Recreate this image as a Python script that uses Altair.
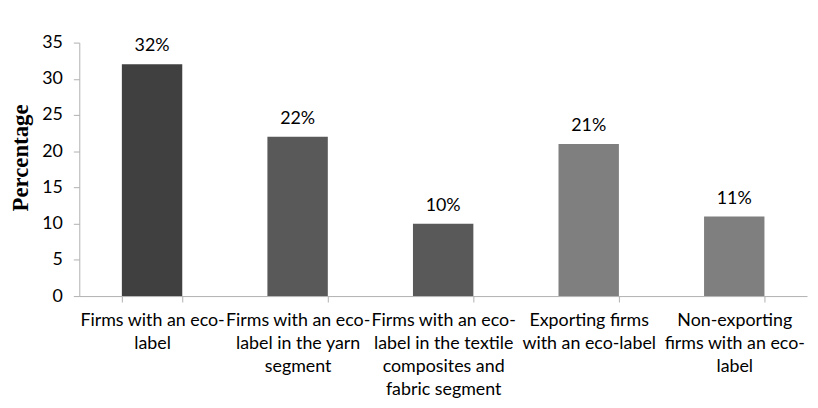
import altair as alt
import pandas as pd

categories = [
    "Firms with an eco-\nlabel",
    "Firms with an eco-\nlabel in the yarn\nsegment",
    "Firms with an eco-\nlabel in the textile\ncomposites and\nfabric segment",
    "Exporting firms\nwith an eco-label",
    "Non-exporting\nfirms with an eco-\nlabel",
]
values = [32, 22, 10, 21, 11]
labels = ["32%", "22%", "10%", "21%", "11%"]
colors = ["#404040", "#595959", "#595959", "#7f7f7f", "#7f7f7f"]

df = pd.DataFrame({"cat": categories, "val": values, "lab": labels, "col": colors})

x = alt.X("cat:N", sort=categories,
          scale=alt.Scale(paddingInner=0.585, paddingOuter=0.2925),
          axis=alt.Axis(title=None, labelAngle=0, labelExpr="split(datum.label, '\\n')",
                        labelFont="Lato", labelFontSize=18, labelColor="#000000",
                        labelLineHeight=23, labelPadding=10, labelBaseline="top",
                        domainColor="#b0b0b0", tickColor="#b0b0b0", tickSize=6,
                        tickBand="extent", labelLimit=250, labelOverlap=False))
y = alt.Y("val:Q", scale=alt.Scale(domain=[0, 35]),
          axis=alt.Axis(title="Percentage", titleFont="Liberation Serif", titleFontSize=23,
                        titleFontWeight="bold", titleColor="#000000", titlePadding=9,
                        titleY=116,
                        values=[0, 5, 10, 15, 20, 25, 30, 35], grid=False, labelOverlap=False,
                        labelFont="Lato", labelFontSize=18, labelColor="#000000",
                        domainColor="#b0b0b0", tickColor="#b0b0b0", tickSize=6, labelPadding=11))

bars = alt.Chart(df).mark_bar().encode(x=x, y=y, color=alt.Color("col:N", scale=None))
text = alt.Chart(df).mark_text(dy=-13, baseline="alphabetic", font="Lato", fontSize=18,
                               color="#000000").encode(x=x, y=y, text="lab:N")

chart = (bars + text).properties(
    width=735, height=256,
    autosize=alt.AutoSizeParams(type="none"),
    padding={"top": 33, "left": 72, "right": 3, "bottom": 103},
).configure_view(stroke=None)
chart.save("out.html", embed_options={"renderer": "svg", "actions": False})
